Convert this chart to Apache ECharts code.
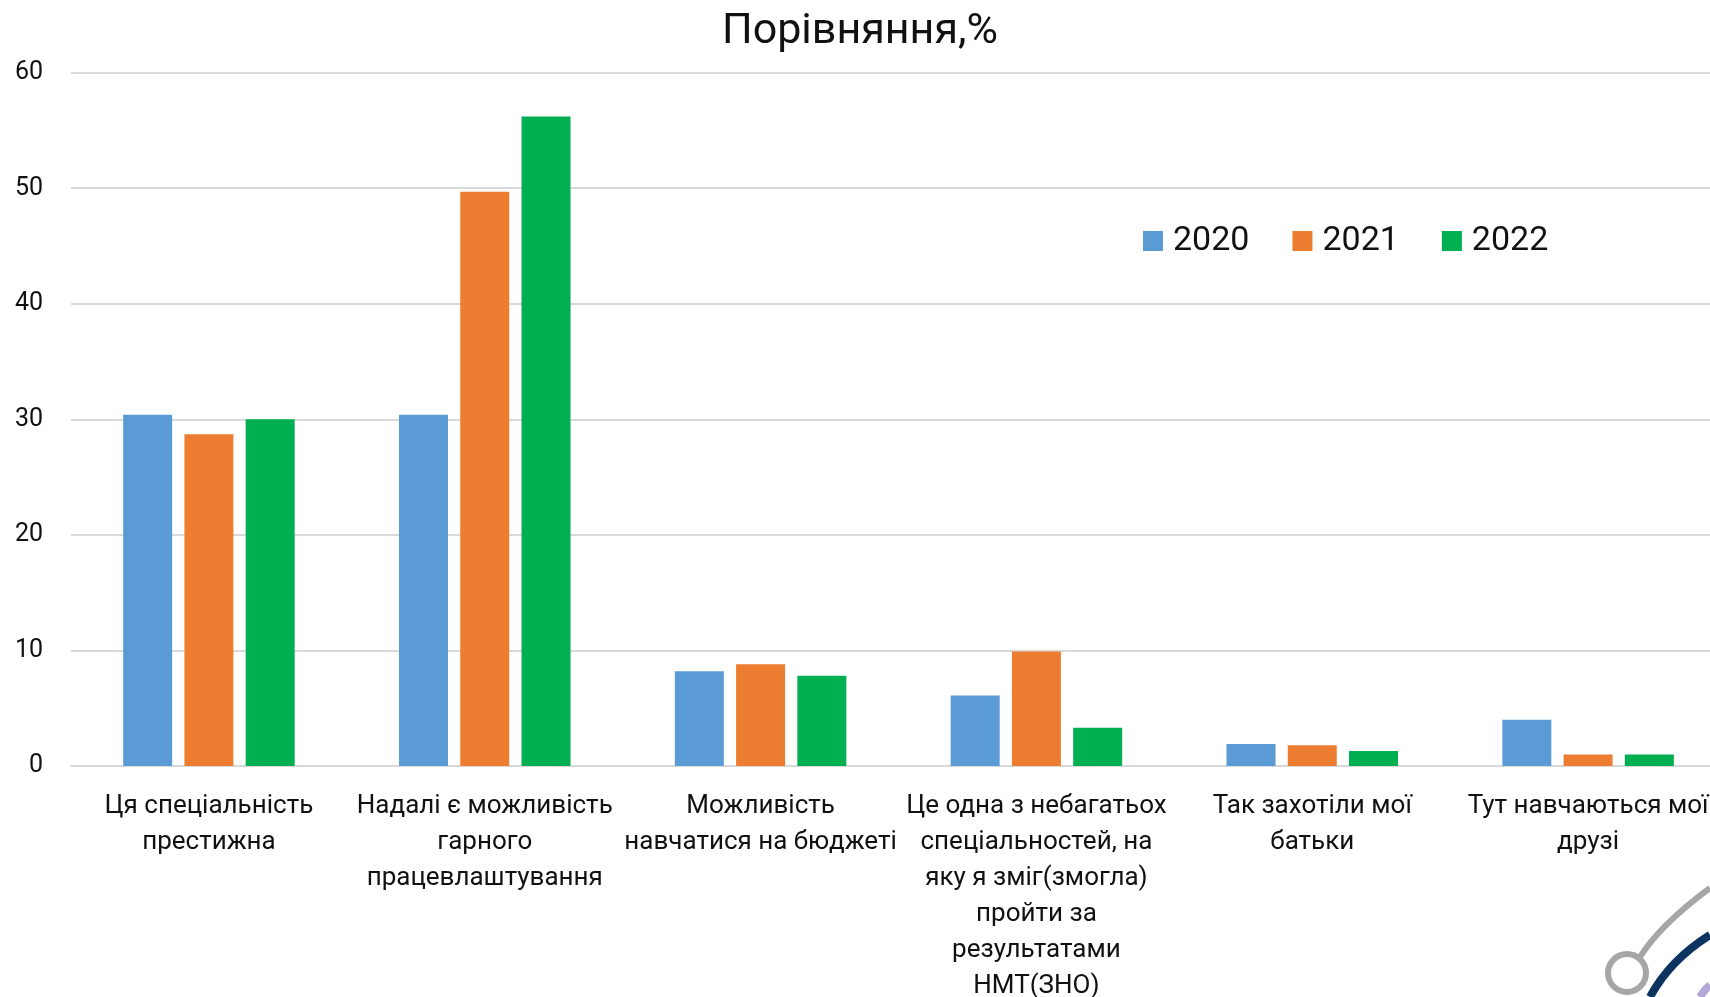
<!DOCTYPE html>
<html>
<head>
<meta charset="utf-8">
<script src="https://cdn.jsdelivr.net/npm/echarts@6/dist/echarts.min.js"></script>
<style>
html,body{margin:0;padding:0;background:#fff;}
#chart{width:1710px;height:997px;}
</style>
</head>
<body>
<div id="chart"></div>
<script>
const categories = [
  "Ця спеціальність\nпрестижна",
  "Надалі є можливість\nгарного\nпрацевлаштування",
  "Можливість\nнавчатися на бюджеті",
  "Це одна з небагатьох\nспеціальностей, на\nяку я зміг(змогла)\nпройти за\nрезультатами\nНМТ(ЗНО)",
  "Так захотіли мої\nбатьки",
  "Тут навчаються мої\nдрузі"
];
const seriesNames = ["2020", "2021", "2022"];
const values2020 = [30.4, 30.4, 8.2, 6.1, 1.9, 4.0];
const values2021 = [28.7, 49.7, 8.8, 9.9, 1.8, 1.0];
const values2022 = [30.0, 56.2, 7.8, 3.3, 1.3, 1.0];
const titleText = "Порівняння,%";

const colors = ["#5B9BD5", "#ED7D31", "#00B050"];
const allValues = [values2020, values2021, values2022];
const FONT = "Roboto";

const chart = echarts.init(document.getElementById('chart'), null, {renderer: 'canvas'});
chart.setOption({
  animation: false,
  backgroundColor: '#ffffff',
  title: {
    text: titleText,
    left: 717, top: 6,
    textStyle: {fontFamily: FONT, fontSize: 43, fontWeight: 'normal', color: '#111'}
  },
  legend: {
    data: seriesNames,
    left: 1138, top: 219,
    itemWidth: 20, itemHeight: 20, itemGap: 43,
    icon: 'rect',
    textStyle: {fontFamily: FONT, fontSize: 34, color: '#111', padding: [0, 0, 0, 5]}
  },
  grid: {left: 71, top: 72.7, width: 1655, height: 693.3, containLabel: false, outerBoundsMode: 'none'},
  xAxis: {
    type: 'category',
    data: categories,
    axisTick: {show: false},
    axisLine: {show: true, lineStyle: {color: '#d9d9d9', width: 2}},
    axisLabel: {
      interval: 0, margin: 22,
      fontFamily: FONT, fontSize: 26, lineHeight: 36, color: '#111', align: 'center'
    }
  },
  yAxis: {
    type: 'value',
    min: 0, max: 60, interval: 10,
    axisLine: {show: false},
    axisTick: {show: false},
    splitLine: {lineStyle: {color: '#d9d9d9', width: 2}},
    axisLabel: {fontFamily: FONT, fontSize: 25, color: '#111', margin: 28}
  },
  series: seriesNames.map((n, i) => ({
    name: n,
    type: 'bar',
    data: allValues[i],
    barWidth: 49,
    barGap: '25%',
    itemStyle: {color: colors[i]}
  })),
  graphic: [
    {type: 'circle', shape: {cx: 1627, cy: 973, r: 19}, style: {fill: 'none', stroke: '#a6a6a6', lineWidth: 6}, silent: true},
    {type: 'bezierCurve', shape: {x1: 1640, y1: 957, cpx1: 1660, cpy1: 925, x2: 1710, y2: 888}, style: {fill: 'none', stroke: '#a6a6a6', lineWidth: 6}, silent: true},
    {type: 'bezierCurve', shape: {x1: 1650, y1: 997, cpx1: 1670, cpy1: 960, x2: 1710, y2: 935}, style: {fill: 'none', stroke: '#0d3461', lineWidth: 8}, silent: true},
    {type: 'bezierCurve', shape: {x1: 1700, y1: 997, cpx1: 1704, cpy1: 990, x2: 1710, y2: 985}, style: {fill: 'none', stroke: '#b4a7d6', lineWidth: 8}, silent: true}
  ]
});
</script>
</body>
</html>
